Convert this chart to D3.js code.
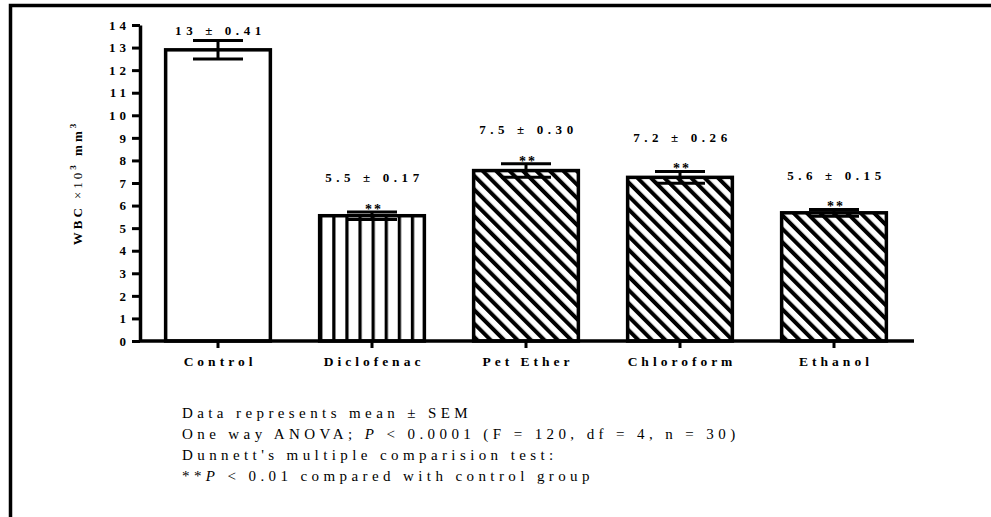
<!DOCTYPE html>
<html>
<head>
<meta charset="utf-8">
<script src="https://d3js.org/d3.v7.min.js"></script>
<style>
body { margin: 0; background: #fff; }
svg text { font-family: "Liberation Serif", "Times New Roman", "DejaVu Serif", serif; fill: #000; }
</style>
</head>
<body>
<div id="my_dataviz"></div>
<script>
// data
var groups = ["Control", "Diclofenac", "Pet Ether", "Chloroform", "Ethanol"];
var means = [12.9, 5.55, 7.55, 7.25, 5.68];
var sems = [0.41, 0.17, 0.30, 0.26, 0.15];
var meanLabels = ["13 ± 0.41", "5.5 ± 0.17", "7.5 ± 0.30", "7.2 ± 0.26", "5.6 ± 0.15"];
var stars = ["", "**", "**", "**", "**"];
var hatch = ["none", "vertical", "diagonal", "diagonal", "diagonal"];
var yTicks = d3.range(0, 15);
var notes = [
    [["Data represents mean ± SEM", false]],
    [["One way ANOVA; ", false], ["P", true], [" < 0.0001 (F = 120, df = 4, n = 30)", false]],
    [["Dunnett's multiple comparision test:", false]],
    [["**", false], ["P", true], [" < 0.01 compared with control group", false]]
];

var W = 991, H = 517;
var serif = "'Liberation Serif', 'Times New Roman', serif";

var svg = d3.select("#my_dataviz")
    .append("svg")
    .attr("width", W)
    .attr("height", H);

svg.append("rect").attr("width", W).attr("height", H).attr("fill", "#fff");

// outer frame (only top and left visible)
svg.append("path")
    .attr("d", "M10.5," + H + "V5.5H" + W)
    .attr("fill", "none")
    .attr("stroke", "#000")
    .attr("stroke-width", 3.5);

var x = d3.scaleBand()
    .domain(groups)
    .range([141, 911])
    .paddingInner(0.32)
    .paddingOuter(0.16);

var y = d3.scaleLinear()
    .domain([0, 14])
    .range([341, 25]);

// hatch patterns
var defs = svg.append("defs");
defs.append("pattern")
    .attr("id", "vertical")
    .attr("patternUnits", "userSpaceOnUse")
    .attr("x", x("Diclofenac") - 0.5)
    .attr("width", 13.1)
    .attr("height", 20)
    .append("line")
    .attr("x1", 1.5).attr("x2", 1.5)
    .attr("y1", 0).attr("y2", 20)
    .attr("stroke", "#000")
    .attr("stroke-width", 3.5);

defs.append("pattern")
    .attr("id", "diagonal")
    .attr("patternUnits", "userSpaceOnUse")
    .attr("width", 9.5)
    .attr("height", 20)
    .attr("patternTransform", "rotate(-45)")
    .append("line")
    .attr("x1", 2).attr("x2", 2)
    .attr("y1", 0).attr("y2", 20)
    .attr("stroke", "#000")
    .attr("stroke-width", 4);

var data = groups.map(function(g, i) {
    return {group: g, mean: means[i], sem: sems[i], label: meanLabels[i], star: stars[i], hatch: hatch[i]};
});

// Bars
svg.selectAll("mybar")
    .data(data)
    .enter()
    .append("rect")
    .attr("x", function(d) { return x(d.group); })
    .attr("y", function(d) { return y(d.mean); })
    .attr("width", x.bandwidth())
    .attr("height", function(d) { return y(0) - y(d.mean); })
    .attr("fill", function(d) { return d.hatch == "none" ? "#fff" : "url(#" + d.hatch + ")"; })
    .attr("stroke", "#000")
    .attr("stroke-width", 3.5);

// error bars
var cap = 25;
var eb = svg.selectAll("myerr")
    .data(data)
    .enter()
    .append("g")
    .attr("stroke", "#000")
    .attr("stroke-width", 3);
eb.append("line")
    .attr("x1", function(d) { return x(d.group) + x.bandwidth() / 2; })
    .attr("x2", function(d) { return x(d.group) + x.bandwidth() / 2; })
    .attr("y1", function(d) { return y(d.mean - d.sem); })
    .attr("y2", function(d) { return y(d.mean + d.sem); });
eb.append("line")
    .attr("x1", function(d) { return x(d.group) + x.bandwidth() / 2 - cap; })
    .attr("x2", function(d) { return x(d.group) + x.bandwidth() / 2 + cap; })
    .attr("y1", function(d) { return y(d.mean + d.sem); })
    .attr("y2", function(d) { return y(d.mean + d.sem); });
eb.append("line")
    .attr("x1", function(d) { return x(d.group) + x.bandwidth() / 2 - cap; })
    .attr("x2", function(d) { return x(d.group) + x.bandwidth() / 2 + cap; })
    .attr("y1", function(d) { return y(d.mean - d.sem); })
    .attr("y2", function(d) { return y(d.mean - d.sem); });

// significance stars
svg.selectAll("mystar")
    .data(data)
    .enter()
    .append("text")
    .attr("x", function(d) { return x(d.group) + x.bandwidth() / 2 + 2; })
    .attr("y", function(d) { return y(d.mean + d.sem) + 2; })
    .attr("text-anchor", "middle")
    .style("font-family", serif)
    .style("font-size", "14px")
    .style("font-weight", "bold")
    .style("letter-spacing", "2px")
    .text(function(d) { return d.star; });

// mean ± sem labels
svg.selectAll("mylabel")
    .data(data)
    .enter()
    .append("text")
    .attr("x", function(d) { return x(d.group) + x.bandwidth() / 2 + 2.5; })
    .attr("y", function(d) { return y(Math.min(d.mean + d.sem + 1.5, 13.75)) + 4; })
    .attr("text-anchor", "middle")
    .style("font-family", serif)
    .style("font-size", "13px")
    .style("font-weight", "bold")
    .style("letter-spacing", "4.6px")
    .text(function(d) { return d.label; });

// Y axis
var yAxis = svg.append("g")
    .attr("transform", "translate(140,0)")
    .call(d3.axisLeft(y).tickValues(yTicks).tickSize(8).tickSizeOuter(0).tickPadding(2));
yAxis.select(".domain").attr("stroke-width", 3.5);
yAxis.selectAll(".tick line").attr("stroke-width", 3);
yAxis.selectAll("text")
    .style("font-family", serif)
    .style("font-size", "13px")
    .style("font-weight", "bold")
    .style("letter-spacing", "4px");

// X axis
var xAxis = svg.append("g")
    .attr("transform", "translate(0," + y(0) + ")")
    .call(d3.axisBottom(x).tickSize(7).tickSizeOuter(0).tickPadding(8));
xAxis.select(".domain").attr("stroke-width", 3.5).attr("d", "M139,0H914");
xAxis.selectAll(".tick line").attr("stroke-width", 3);
xAxis.selectAll("text")
    .attr("dx", 2)
    .style("font-family", serif)
    .style("font-size", "13.5px")
    .style("font-weight", "bold")
    .style("letter-spacing", "4px");

// Y axis title
var yt = svg.append("text")
    .attr("transform", "translate(82,183) rotate(-90)")
    .attr("text-anchor", "middle")
    .style("font-family", serif)
    .style("font-size", "13px")
    .style("font-weight", "bold")
    .style("letter-spacing", "3px");
yt.append("tspan").text("WBC ");
yt.append("tspan").style("font-weight", "normal").text("×10");
yt.append("tspan").attr("dy", -6).style("font-size", "9px").text("3");
yt.append("tspan").attr("dy", 6).text(" mm");
yt.append("tspan").attr("dy", -6).style("font-size", "9px").text("3");

// footnotes
notes.forEach(function(line, i) {
    var t = svg.append("text")
        .attr("x", 182)
        .attr("y", 418 + i * 21)
        .style("font-family", serif)
        .style("font-size", "15px")
        .style("letter-spacing", "4.4px");
    line.forEach(function(p) {
        t.append("tspan")
            .style("font-style", p[1] ? "italic" : "normal")
            .text(p[0]);
    });
});
</script>
</body>
</html>
